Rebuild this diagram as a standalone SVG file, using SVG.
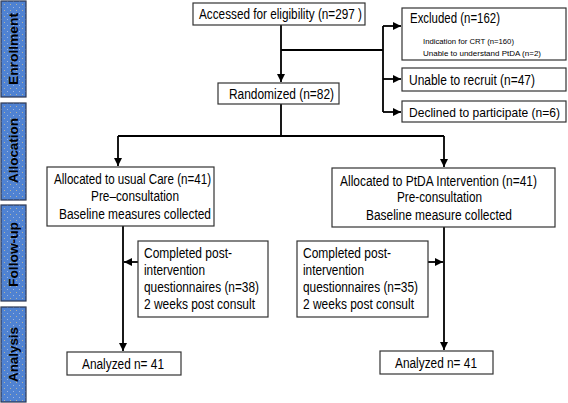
<svg xmlns="http://www.w3.org/2000/svg" width="568" height="403" viewBox="0 0 568 403">
<defs>
<pattern id="dots" width="6" height="6" patternUnits="userSpaceOnUse">
<rect width="6" height="6" fill="#4f82d2"/>
<circle cx="1.5" cy="1.5" r="0.5" fill="#b9c9e6"/>
<circle cx="4.5" cy="4.5" r="0.5" fill="#d8c48f"/>
</pattern>
<marker id="ah" markerUnits="userSpaceOnUse" markerWidth="9" markerHeight="9" refX="8" refY="4.5" orient="auto">
<path d="M0,0.5 L8,4.5 L0,8.5 z" fill="#000"/>
</marker>
</defs>
<style>
.side{fill:url(#dots);stroke:#2a3550;stroke-width:1.2}
.sl{font-family:"Liberation Sans",Arial,sans-serif;font-weight:bold;font-size:13.5px;fill:#000;text-anchor:middle}
.box{fill:#fff;stroke:#333;stroke-width:1.2}
.t{font-family:"Liberation Sans",Arial,sans-serif;font-size:13.8px;fill:#000}
.s{font-family:"Liberation Sans",Arial,sans-serif;font-size:8px;fill:#000}
.ln{fill:none;stroke:#000;stroke-width:1.8}
</style>
<rect width="568" height="403" fill="#fff"/>
<g id="side-enrollment"><rect class="side" x="1" y="1" width="25" height="96"/><text class="sl" transform="translate(18,49) rotate(-90)" textLength="72" lengthAdjust="spacingAndGlyphs">Enrollment</text></g>
<g id="side-allocation"><rect class="side" x="1" y="103" width="25" height="97"/><text class="sl" transform="translate(18,150.5) rotate(-90)" textLength="65" lengthAdjust="spacingAndGlyphs">Allocation</text></g>
<g id="side-followup"><rect class="side" x="1" y="205" width="25" height="96"/><text class="sl" transform="translate(18,254.5) rotate(-90)" textLength="65" lengthAdjust="spacingAndGlyphs">Follow-up</text></g>
<g id="side-analysis"><rect class="side" x="1" y="307" width="25" height="95"/><text class="sl" transform="translate(18,354.5) rotate(-90)" textLength="55" lengthAdjust="spacingAndGlyphs">Analysis</text></g>

<g id="connectors">
<path class="ln" d="M281,25 V82" marker-end="url(#ah)"/>
<path class="ln" d="M281,50 H383 M383,26 V112"/>
<path class="ln" d="M383,26 H401" marker-end="url(#ah)"/>
<path class="ln" d="M383,79 H401" marker-end="url(#ah)"/>
<path class="ln" d="M383,112 H401" marker-end="url(#ah)"/>
<path class="ln" d="M281,104 V136 M118,136 H444"/>
<path class="ln" d="M118,136 V166" marker-end="url(#ah)"/>
<path class="ln" d="M444,136 V167" marker-end="url(#ah)"/>
<path class="ln" d="M123,226 V351" marker-end="url(#ah)"/>
<path class="ln" d="M138,262 H124" marker-end="url(#ah)"/>
<path class="ln" d="M444,227 V350" marker-end="url(#ah)"/>
<path class="ln" d="M428,262 H443" marker-end="url(#ah)"/>
</g>

<g id="n-accessed"><rect class="box" x="193" y="3" width="172" height="22"/><text class="t" x="199" y="19" textLength="163" lengthAdjust="spacingAndGlyphs">Accessed for eligibility (n=297 )</text></g>
<g id="n-randomized"><rect class="box" x="218" y="83" width="121" height="21"/><text class="t" x="229" y="98.5" textLength="105" lengthAdjust="spacingAndGlyphs">Randomized (n=82)</text></g>
<g id="n-excluded"><rect class="box" x="402" y="8" width="164" height="52"/>
<text class="t" x="410" y="23" textLength="90" lengthAdjust="spacingAndGlyphs">Excluded (n=162)</text>
<text class="s" x="423" y="44" textLength="91" lengthAdjust="spacingAndGlyphs">Indication for CRT (n=160)</text>
<text class="s" x="423" y="56" textLength="118" lengthAdjust="spacingAndGlyphs">Unable to understand PtDA (n=2)</text></g>
<g id="n-unable"><rect class="box" x="402" y="68" width="164" height="23"/><text class="t" x="409" y="84.5" textLength="126" lengthAdjust="spacingAndGlyphs">Unable to recruit (n=47)</text></g>
<g id="n-declined"><rect class="box" x="402" y="101" width="164" height="21"/><text class="t" x="409" y="117" style="font-size:12.2px" textLength="151" lengthAdjust="spacingAndGlyphs">Declined to participate (n=6)</text></g>

<g id="n-alloc-usual"><rect class="box" x="47" y="167" width="167" height="59"/>
<text class="t" x="54" y="184" textLength="157" lengthAdjust="spacingAndGlyphs">Allocated to usual Care (n=41)</text>
<text class="t" x="91" y="201" textLength="88" lengthAdjust="spacingAndGlyphs">Pre–consultation</text>
<text class="t" x="59" y="219" textLength="152" lengthAdjust="spacingAndGlyphs">Baseline measures collected</text></g>
<g id="n-alloc-ptda"><rect class="box" x="332" y="168" width="223" height="59"/>
<text class="t" x="340" y="186" textLength="197" lengthAdjust="spacingAndGlyphs">Allocated to PtDA Intervention (n=41)</text>
<text class="t" x="397" y="202" textLength="85" lengthAdjust="spacingAndGlyphs">Pre-consultation</text>
<text class="t" x="366" y="220" textLength="146" lengthAdjust="spacingAndGlyphs">Baseline measure collected</text></g>

<g id="n-follow-usual"><rect class="box" x="138" y="241" width="130" height="76"/>
<text class="t" x="144" y="258" textLength="88" lengthAdjust="spacingAndGlyphs">Completed post-</text>
<text class="t" x="144" y="275" textLength="61" lengthAdjust="spacingAndGlyphs">intervention</text>
<text class="t" x="144" y="292" textLength="115" lengthAdjust="spacingAndGlyphs">questionnaires (n=38)</text>
<text class="t" x="144" y="309" textLength="111" lengthAdjust="spacingAndGlyphs">2 weeks post consult</text></g>
<g id="n-follow-ptda"><rect class="box" x="297" y="241" width="131" height="76"/>
<text class="t" x="303" y="258" textLength="88" lengthAdjust="spacingAndGlyphs">Completed post-</text>
<text class="t" x="303" y="275" textLength="61" lengthAdjust="spacingAndGlyphs">intervention</text>
<text class="t" x="303" y="292" textLength="115" lengthAdjust="spacingAndGlyphs">questionnaires (n=35)</text>
<text class="t" x="303" y="309" textLength="111" lengthAdjust="spacingAndGlyphs">2 weeks post consult</text></g>

<g id="n-analyzed-usual"><rect class="box" x="67" y="352" width="114" height="23"/><text class="t" x="82" y="369" textLength="82" lengthAdjust="spacingAndGlyphs">Analyzed n= 41</text></g>
<g id="n-analyzed-ptda"><rect class="box" x="380" y="351" width="113" height="23"/><text class="t" x="395" y="368" textLength="82" lengthAdjust="spacingAndGlyphs">Analyzed n= 41</text></g>
</svg>
